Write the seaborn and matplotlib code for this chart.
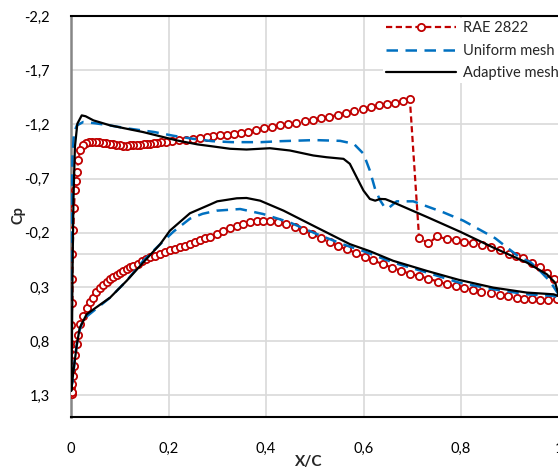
import matplotlib
matplotlib.use("Agg")
import matplotlib.pyplot as plt
import seaborn as sns

# ---------------- data ----------------
# RAE 2822 experiment, upper surface (LE -> TE)
xu_exp = [0.003, 0.000, 0.000, 0.001, 0.000, 0.000, 0.003, 0.003, 0.003, 0.005,
          0.006, 0.008, 0.010, 0.012, 0.015, 0.0185, 0.025, 0.031, 0.037, 0.044,
          0.051, 0.058, 0.065, 0.072, 0.079, 0.086, 0.093, 0.100, 0.107, 0.114,
          0.121, 0.128, 0.135, 0.142, 0.149, 0.156, 0.163, 0.170, 0.177, 0.184,
          0.195, 0.208, 0.222, 0.236, 0.250, 0.264, 0.278, 0.292, 0.306, 0.320,
          0.334, 0.348, 0.364, 0.380, 0.396, 0.412, 0.428, 0.445, 0.462, 0.479,
          0.496, 0.513, 0.530, 0.547, 0.564, 0.581, 0.598, 0.615, 0.632, 0.649,
          0.665, 0.680, 0.695, 0.714, 0.733, 0.751, 0.771, 0.789, 0.807, 0.825,
          0.844, 0.862, 0.880, 0.898, 0.913, 0.928, 0.945, 0.962, 0.977, 0.990]
cpu_exp = [1.29, 1.22, 1.08, 0.92, 0.83, 0.65, 0.45, 0.23, 0.00, -0.23,
           -0.43, -0.59, -0.68, -0.76, -0.87, -0.96, -1.01, -1.03, -1.04, -1.04,
           -1.04, -1.035, -1.03, -1.025, -1.02, -1.015, -1.01, -1.008, -1.005, -1.005,
           -1.006, -1.008, -1.01, -1.012, -1.015, -1.018, -1.022, -1.026, -1.030, -1.034,
           -1.040, -1.047, -1.054, -1.060, -1.066, -1.074, -1.082, -1.090, -1.098, -1.106,
           -1.114, -1.122, -1.134, -1.150, -1.165, -1.178, -1.190, -1.203, -1.216, -1.229,
           -1.242, -1.256, -1.270, -1.288, -1.306, -1.324, -1.342, -1.360, -1.376, -1.388,
           -1.400, -1.412, -1.438, -0.155, -0.101, -0.166, -0.142, -0.132, -0.117, -0.104,
           -0.089, -0.070, -0.040, -0.008, 0.012, 0.034, 0.075, 0.115, 0.167, 0.229]
# RAE 2822 experiment, lower surface (LE -> TE)
xl_exp = [0.002, 0.003, 0.005, 0.007, 0.009, 0.012, 0.015, 0.0185, 0.025, 0.032,
          0.039, 0.046, 0.052, 0.059, 0.066, 0.073, 0.080, 0.087, 0.094, 0.100,
          0.107, 0.114, 0.121, 0.128, 0.137, 0.146, 0.154, 0.162, 0.172, 0.183,
          0.193, 0.203, 0.213, 0.223, 0.234, 0.244, 0.255, 0.265, 0.275, 0.285,
          0.299, 0.312, 0.326, 0.340, 0.353, 0.367, 0.381, 0.394, 0.409, 0.425,
          0.442, 0.459, 0.476, 0.494, 0.512, 0.531, 0.548, 0.566, 0.585, 0.603,
          0.620, 0.639, 0.658, 0.676, 0.695, 0.714, 0.733, 0.752, 0.771, 0.789,
          0.807, 0.825, 0.842, 0.861, 0.880, 0.897, 0.914, 0.930, 0.945, 0.962,
          0.979, 0.996]
cpl_exp = [1.27, 1.20, 1.12, 1.03, 0.93, 0.83, 0.74, 0.646, 0.569, 0.492,
           0.44, 0.399, 0.35, 0.306, 0.28, 0.255, 0.229, 0.21, 0.19, 0.167,
           0.15, 0.135, 0.12, 0.106, 0.085, 0.065, 0.046, 0.027, 0.01, -0.008,
           -0.022, -0.038, -0.053, -0.067, -0.082, -0.098, -0.115, -0.13, -0.148, -0.165,
           -0.19, -0.215, -0.24, -0.262, -0.28, -0.295, -0.306, -0.311, -0.308, -0.297,
           -0.277, -0.252, -0.222, -0.19, -0.152, -0.112, -0.078, -0.048, -0.012, 0.022,
           0.055, 0.09, 0.121, 0.15, 0.177, 0.2, 0.223, 0.25, 0.275, 0.295,
           0.312, 0.328, 0.343, 0.359, 0.374, 0.388, 0.399, 0.407, 0.414, 0.42,
           0.423, 0.414]

# Uniform mesh
xu_uni = [0.0005, 0.0005, 0.001, 0.0015, 0.002, 0.003, 0.006, 0.012, 0.025, 0.05,
          0.08, 0.12, 0.17, 0.21, 0.25, 0.29, 0.33, 0.39, 0.43, 0.50,
          0.552, 0.58, 0.60, 0.613, 0.624, 0.634, 0.644, 0.652, 0.668, 0.702,
          0.736, 0.764, 0.805, 0.87, 0.921, 0.942, 0.962, 0.983, 1.0]
cpu_uni = [1.22, 0.90, 0.50, 0.00, -0.50, -0.90, -1.12, -1.19, -1.222, -1.21,
           -1.19, -1.16, -1.13, -1.095, -1.067, -1.045, -1.036, -1.036, -1.045, -1.055,
           -1.048, -1.021, -0.929, -0.774, -0.60, -0.50, -0.43, -0.43, -0.49, -0.49,
           -0.434, -0.388, -0.311, -0.15, 0.029, 0.07, 0.152, 0.25, 0.368]
xl_uni = [0.0005, 0.0035, 0.008, 0.015, 0.025, 0.046, 0.08, 0.114, 0.148, 0.183,
          0.21, 0.244, 0.27, 0.299, 0.347, 0.394, 0.449, 0.504, 0.56, 0.60,
          0.661, 0.73, 0.796, 0.866, 0.935, 0.99, 1.0]
cpl_uni = [1.22, 1.17, 0.955, 0.738, 0.599, 0.522, 0.399, 0.244, 0.059, -0.095,
           -0.21, -0.33, -0.375, -0.404, -0.419, -0.373, -0.295, -0.188, -0.09, -0.03,
           0.075, 0.167, 0.26, 0.321, 0.368, 0.383, 0.399]

# Adaptive mesh
xu_ada = [0.0005, 0.002, 0.003, 0.005, 0.008, 0.013, 0.022, 0.03, 0.046, 0.08,
          0.148, 0.217, 0.26, 0.292, 0.326, 0.36, 0.408, 0.449, 0.497, 0.524,
          0.559, 0.572, 0.586, 0.600, 0.613, 0.624, 0.634, 0.645, 0.661, 0.733,
          0.798, 0.866, 0.935, 0.976, 0.993, 1.0]
cpu_ada = [1.26, 0.80, 0.20, -0.50, -0.99, -1.206, -1.283, -1.275, -1.237, -1.191,
           -1.129, -1.052, -1.015, -0.996, -0.975, -0.968, -0.98, -0.959, -0.913, -0.897,
           -0.882, -0.836, -0.712, -0.589, -0.512, -0.496, -0.512, -0.51, -0.481, -0.34,
           -0.21, -0.064, 0.075, 0.183, 0.26, 0.368]
xl_ada = [0.0005, 0.005, 0.012, 0.018, 0.032, 0.046, 0.08, 0.114, 0.148, 0.183,
          0.203, 0.244, 0.285, 0.30, 0.34, 0.36, 0.388, 0.436, 0.504, 0.572,
          0.613, 0.661, 0.73, 0.796, 0.866, 0.935, 0.99, 1.0]
cpl_ada = [1.26, 1.078, 0.831, 0.677, 0.553, 0.507, 0.399, 0.244, 0.075, -0.095,
           -0.22, -0.38, -0.46, -0.49, -0.518, -0.521, -0.496, -0.404, -0.249, -0.095,
           -0.03, 0.059, 0.152, 0.235, 0.306, 0.352, 0.368, 0.383]

series_names = ["RAE 2822", "Uniform mesh", "Adaptive mesh"]
x_ticks = [0, 0.2, 0.4, 0.6, 0.8, 1.0]
x_ticklabels = ["0", "0,2", "0,4", "0,6", "0,8", "1"]
y_ticks = [-2.2, -1.7, -1.2, -0.7, -0.2, 0.3, 0.8, 1.3]
y_ticklabels = ["-2,2", "-1,7", "-1,2", "-0,7", "-0,2", "0,3", "0,8", "1,3"]

# ---------------- style ----------------
sns.set_style("white")
plt.rcParams['font.family'] = ['Lato', 'DejaVu Sans']
plt.rcParams['font.size'] = 10.5

W, H = 558, 468
fig = plt.figure(figsize=(W / 100, H / 100), dpi=100)
fig.patch.set_facecolor("white")
ax = fig.add_axes([71 / W, (H - 417) / H, 487.5 / W, 401 / H])

RED, BLUE, BLACK = "#C00000", "#0070C0", "#000000"

# closed contours: upper TE -> LE, then lower LE -> TE
red_x = xu_exp[::-1] + xl_exp
red_y = cpu_exp[::-1] + cpl_exp
uni_x = xu_uni[::-1] + xl_uni
uni_y = cpu_uni[::-1] + cpl_uni
ada_x = xu_ada[::-1] + xl_ada
ada_y = cpu_ada[::-1] + cpl_ada

sns.lineplot(x=red_x, y=red_y, sort=False, estimator=None, ax=ax,
             color=RED, linewidth=1.6, linestyle=(0, (2.8, 1.6)),
             marker="o", markersize=5.2, markerfacecolor="white",
             markeredgecolor=RED, markeredgewidth=1.3, zorder=3)
sns.lineplot(x=uni_x, y=uni_y, sort=False, estimator=None, ax=ax,
             color=BLUE, linewidth=1.8, linestyle=(0, (4.6, 3.0)), zorder=4)
sns.lineplot(x=ada_x, y=ada_y, sort=False, estimator=None, ax=ax,
             color=BLACK, linewidth=1.6, zorder=5)

ax.set_xlim(0, 1)
ax.set_ylim(1.5, -2.2)
ax.set_xticks(x_ticks)
ax.set_xticklabels(x_ticklabels)
ax.set_yticks(y_ticks)
ax.set_yticklabels(y_ticklabels)
ax.set_xlabel("")
ax.set_ylabel("")
ax.tick_params(axis="both", length=0, labelsize=10.5, colors="#000000")
ax.tick_params(axis="x", pad=18)
ax.tick_params(axis="y", pad=15)

ax.grid(True, color="#D9D9D9", linewidth=1.2)
ax.axhline(0, color="#D9D9D9", linewidth=1.2, zorder=0.5)
ax.set_axisbelow(True)

for side in ["top", "bottom"]:
    ax.spines[side].set_color("black")
    ax.spines[side].set_linewidth(1.5)
ax.spines["left"].set_color("#868686")
ax.spines["left"].set_linewidth(1.8)
ax.spines["right"].set_visible(False)

fig.text(309 / W, 1 - 462 / H, "X/C", ha="center", va="center",
         fontsize=11, fontweight="bold")
fig.text(19 / W, 1 - 215 / H, "Cp", ha="center", va="center",
         rotation=90, fontsize=10.5, fontweight="bold")

handles = ax.get_lines()[:3]
leg = ax.legend(handles, series_names, loc="upper left",
                bbox_to_anchor=(383 / W, 1 - 18 / H), bbox_transform=fig.transFigure,
                frameon=True, facecolor="white", edgecolor="none", framealpha=1,
                fancybox=False, borderpad=0.2, borderaxespad=0, handlelength=4.8,
                handletextpad=0.5, labelspacing=0.6, numpoints=1, fontsize=10.5)
leg.set_zorder(10)

fig.savefig("out.png", dpi=100, facecolor="white")
